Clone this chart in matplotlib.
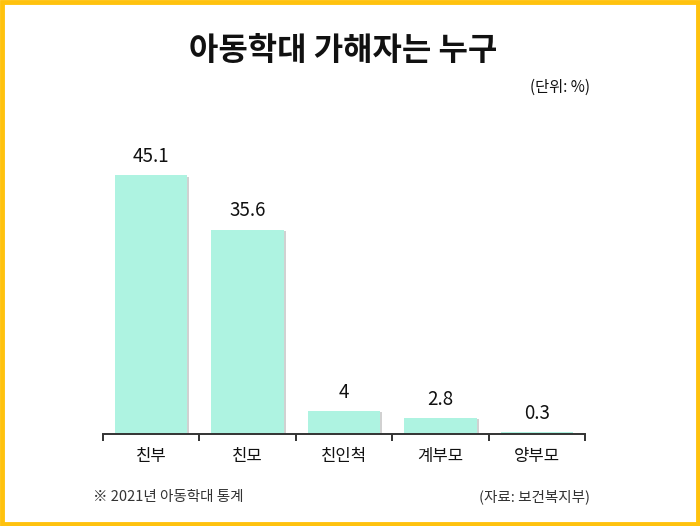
import matplotlib
matplotlib.use("Agg")
from matplotlib import pyplot as plt, patches as pth, patheffects as pe

plt.rcParams['font.family'] = ['Noto Sans CJK KR', 'DejaVu Sans']

categories = ["친부", "친모", "친인척", "계부모", "양부모"]
values = [45.1, 35.6, 4, 2.8, 0.3]
value_labels = ["45.1", "35.6", "4", "2.8", "0.3"]

W, H = 700, 526
fig = plt.figure(figsize=(W / 100, H / 100), dpi=100)
fig.patch.set_facecolor("white")

# yellow frame
fig.add_artist(pth.Rectangle((2 / W, 2 / H), 1 - 4 / W, 1 - 4 / H, transform=fig.transFigure,
                             fill=False, edgecolor="#FFC20E", linewidth=3.5))

ax = fig.add_axes([103 / W, (H - 434) / H, (585 - 103) / W, (434 - 100) / H])
ax.set_xlim(0, len(categories))
ax.set_ylim(0, 334 / 5.74)

x = [i + 0.5 for i in range(len(categories))]
bars = ax.bar(x, values, width=0.75, color="#AEF3E1", zorder=2)
for b in bars:
    b.set_path_effects([pe.SimplePatchShadow(offset=(1.5, -1), shadow_rgbFace="#999999", alpha=0.45),
                        pe.Normal()])

for xi, v, lab in zip(x, values, value_labels):
    ax.annotate(lab, (xi, v), xytext=(0, 6), textcoords="offset points",
                ha="center", va="bottom", fontsize=13.5, color="#111111")

for s in ["top", "right", "left"]:
    ax.spines[s].set_visible(False)
ax.spines["bottom"].set_color("#333333")
ax.spines["bottom"].set_linewidth(1.4)
ax.set_yticks([])
ax.set_xticks(range(len(categories) + 1))
ax.set_xticklabels([])
ax.tick_params(axis="x", length=5, width=1.4, color="#333333", direction="out")
for xi, c in zip(x, categories):
    ax.text(xi, -4.0, c, ha="center", va="center", fontsize=12, color="#111111")

fig.text(343 / W, 1 - 51 / H, "아동학대 가해자는 누구", ha="center", va="center",
         fontsize=23, fontweight="bold", color="#111111")
fig.text(590 / W, 1 - 87 / H, "(단위: %)", ha="right", va="center", fontsize=11, color="#111111")
fig.text(93 / W, 1 - 497 / H, "※ 2021년 아동학대 통계", ha="left", va="center", fontsize=10.5, color="#333333")
fig.text(590 / W, 1 - 497 / H, "(자료: 보건복지부)", ha="right", va="center", fontsize=10.5, color="#333333")

fig.savefig("out.png", dpi=100)
